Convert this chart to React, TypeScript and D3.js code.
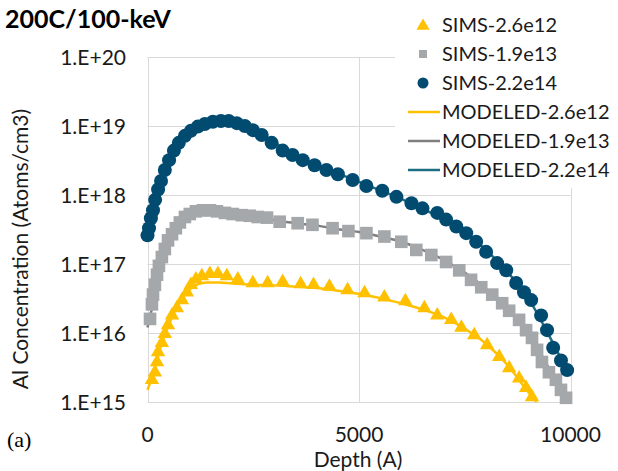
import React, { useRef, useEffect } from 'react';
import * as d3 from 'd3';

// SIMS-2.2e14 (circles)
const simsHighDepth = [0, 35, 80, 130, 180, 250, 320, 410, 510, 625, 740, 885, 1025, 1190, 1355, 1545, 1735, 1920, 2110, 2300, 2490, 2700, 2935, 3195, 3430, 3670, 3950, 4230, 4500, 4850, 5175, 5550, 5885, 6240, 6500, 6850, 7060, 7300, 7535, 7770, 8005, 8265, 8480, 8715, 8900, 9070, 9305, 9445, 9590, 9775, 9920];
const simsHighConc = [2.6e17, 3.3e17, 4.6e17, 6.0e17, 8.5e17, 1.2e18, 1.6e18, 2.3e18, 3.2e18, 4.4e18, 5.7e18, 7.2e18, 8.5e18, 9.8e18, 1.07e19, 1.15e19, 1.18e19, 1.18e19, 1.1e19, 1.0e19, 8.7e18, 7.4e18, 5.7e18, 4.4e18, 3.8e18, 3.2e18, 2.7e18, 2.3e18, 2.0e18, 1.65e18, 1.35e18, 1.15e18, 9.4e17, 7.6e17, 6.4e17, 5.5e17, 4.4e17, 3.5e17, 2.8e17, 2.1e17, 1.5e17, 1.03e17, 8.1e16, 5.3e16, 3.9e16, 3.0e16, 1.8e16, 1.1e16, 6.1e15, 4.0e15, 2.9e15];

// SIMS-1.9e13 (squares)
const simsMidDepth = [60, 105, 130, 175, 225, 270, 340, 410, 485, 580, 670, 765, 885, 1000, 1145, 1310, 1475, 1640, 1830, 2015, 2230, 2415, 2605, 2825, 3125, 3550, 3900, 4375, 4750, 5175, 5600, 6000, 6355, 6710, 7060, 7370, 7650, 7890, 8150, 8385, 8550, 8785, 8950, 9090, 9210, 9325, 9490, 9655, 9775, 9895];
const simsMidConc = [1.6e16, 2.6e16, 3.6e16, 5.0e16, 7.0e16, 9.4e16, 1.26e17, 1.65e17, 2.2e17, 2.7e17, 3.3e17, 4.0e17, 4.8e17, 5.3e17, 5.8e17, 6.0e17, 6.0e17, 5.8e17, 5.5e17, 5.3e17, 5.1e17, 5.0e17, 4.8e17, 4.7e17, 4.1e17, 3.9e17, 3.7e17, 3.3e17, 3.0e17, 2.8e17, 2.5e17, 2.1e17, 1.6e17, 1.35e17, 1.07e17, 8.1e16, 5.9e16, 4.6e16, 3.6e16, 2.7e16, 2.1e16, 1.55e16, 1.1e16, 8.5e15, 5.7e15, 3.8e15, 2.7e15, 2.1e15, 1.5e15, 1.15e15];

// SIMS-2.6e12 (triangles)
const simsLowDepth = [105, 175, 225, 250, 340, 410, 485, 580, 695, 815, 930, 1025, 1145, 1285, 1475, 1665, 1875, 2135, 2490, 2840, 3195, 3620, 3925, 4300, 4730, 5130, 5600, 6095, 6545, 6850, 7180, 7420, 7725, 8030, 8315, 8550, 8785, 8950, 9090];
const simsLowConc = [2.1e15, 2.7e15, 3.8e15, 5.3e15, 7.2e15, 9.7e15, 1.3e16, 1.8e16, 2.3e16, 3.0e16, 3.9e16, 5.0e16, 6.0e16, 6.7e16, 7.2e16, 7.2e16, 6.7e16, 6.0e16, 5.3e16, 5.3e16, 5.5e16, 5.1e16, 5.0e16, 4.7e16, 4.2e16, 3.8e16, 3.3e16, 2.9e16, 2.3e16, 1.8e16, 1.55e16, 1.2e16, 9.3e15, 6.7e15, 4.5e15, 3.1e15, 2.2e15, 1.6e15, 1.18e15];

// modeled profiles
const modelLowDepth = [0, 100, 200, 300, 400, 500, 600, 700, 800, 900, 1000, 1200, 1400, 1700, 2000, 2500, 3000, 3500, 4000, 4500, 5000, 5500, 6000, 6500, 7000, 7500, 8000, 8500, 9000, 9200];
const modelLowConc = [1.5e15, 2.2e15, 3.5e15, 6e15, 9e15, 1.3e16, 1.8e16, 2.4e16, 3.0e16, 3.7e16, 4.3e16, 5.1e16, 5.4e16, 5.4e16, 5.2e16, 5.0e16, 4.9e16, 4.7e16, 4.5e16, 4.1e16, 3.7e16, 3.2e16, 2.7e16, 2.2e16, 1.7e16, 1.15e16, 7e15, 3.5e15, 1.4e15, 1.0e15];
const modelMidDepth = [0, 100, 200, 300, 400, 500, 600, 700, 800, 1000, 1200, 1400, 1700, 2000, 2500, 3000, 3500, 4000, 4500, 5000, 5500, 6000, 6500, 7000, 7500, 8000, 8500, 9000, 9500, 9900];
const modelMidConc = [1.2e16, 2.2e16, 4.2e16, 8e16, 1.35e17, 2e17, 2.7e17, 3.4e17, 4.1e17, 5e17, 5.5e17, 5.6e17, 5.4e17, 5.1e17, 4.8e17, 4.3e17, 3.9e17, 3.6e17, 3.2e17, 2.9e17, 2.5e17, 2.1e17, 1.6e17, 1.15e17, 7.5e16, 4.4e16, 2.3e16, 1.0e16, 3e15, 1.0e15];
const modelHighDepth = [0, 100, 200, 300, 400, 500, 600, 800, 1000, 1200, 1500, 1800, 2000, 2300, 2600, 3000, 3500, 4000, 4500, 5000, 5500, 6000, 6500, 7000, 7500, 8000, 8500, 9000, 9500, 9900];
const modelHighConc = [2.3e17, 4e17, 7e17, 1.15e18, 1.8e18, 2.7e18, 3.7e18, 5.8e18, 8e18, 9.6e18, 1.1e19, 1.15e19, 1.13e19, 1.0e19, 8.3e18, 5.8e18, 3.7e18, 2.7e18, 2.05e18, 1.55e18, 1.17e18, 8.8e17, 6.3e17, 4.5e17, 2.9e17, 1.6e17, 7.8e16, 3.2e16, 9e15, 3e15];

const xTicks = [0, 5000, 10000];
const yTicks = [1e15, 1e16, 1e17, 1e18, 1e19, 1e20];
const yTickLabels = ['1.E+15', '1.E+16', '1.E+17', '1.E+18', '1.E+19', '1.E+20'];

const legendNames = ['SIMS-2.6e12', 'SIMS-1.9e13', 'SIMS-2.2e14', 'MODELED-2.6e12', 'MODELED-1.9e13', 'MODELED-2.2e14'];

const YELLOW = '#FFC000';
const GREY = '#A5A8AA';
const NAVY = '#024B70';
const GREY_LINE = '#7F7F7F';
const TEAL = '#1F6E85';

const width = 618;
const height = 471;
const font = 'Lato, "Open Sans", sans-serif';

const zip = (xs: number[], ys: number[]) => xs.map((x, i) => [x, ys[i]] as [number, number]);

const App: React.FC = () => {
  const svgRef = useRef<SVGSVGElement | null>(null);

  useEffect(() => {
    document.body.style.margin = '0';
    const svg = d3.select(svgRef.current);
    svg.selectAll('*').remove();

    const x = d3.scaleLinear().domain([0, 10000]).range([147.5, 570.5]);
    const y = d3.scaleLog().domain([1e15, 1e20]).range([402, 57]);

    svg.append('rect').attr('width', width).attr('height', height).attr('fill', '#fff');

    // gridlines
    const grid = svg.append('g').attr('stroke', '#D9D9D9').attr('stroke-width', 1);
    yTicks.forEach(t => {
      grid.append('line')
        .attr('x1', x(0)).attr('x2', x(10000))
        .attr('y1', Math.round(y(t)) + 0.5).attr('y2', Math.round(y(t)) + 0.5);
    });
    xTicks.forEach(t => {
      grid.append('line')
        .attr('x1', Math.round(x(t)) + 0.5).attr('x2', Math.round(x(t)) + 0.5)
        .attr('y1', y(1e20)).attr('y2', y(1e15));
    });

    // y tick labels
    svg.append('g').selectAll('text')
      .data(yTicks)
      .enter()
      .append('text')
      .attr('x', 126)
      .attr('y', d => y(d))
      .attr('dy', '0.36em')
      .attr('text-anchor', 'end')
      .attr('font-family', font)
      .attr('font-size', 21)
      .attr('fill', '#1a1a1a')
      .text((d, i) => yTickLabels[i]);

    // x tick labels
    svg.append('g').selectAll('text')
      .data(xTicks)
      .enter()
      .append('text')
      .attr('x', d => x(d))
      .attr('y', 442)
      .attr('text-anchor', 'middle')
      .attr('font-family', font)
      .attr('font-size', 21)
      .attr('fill', '#1a1a1a')
      .text(d => String(d));

    // axis titles
    svg.append('text')
      .attr('x', 358).attr('y', 467)
      .attr('text-anchor', 'middle')
      .attr('font-family', font).attr('font-size', 21)
      .attr('fill', '#1a1a1a')
      .text('Depth (A)');
    svg.append('text')
      .attr('transform', 'translate(28,249) rotate(-90)')
      .attr('text-anchor', 'middle')
      .attr('font-family', font).attr('font-size', 21)
      .attr('fill', '#1a1a1a')
      .text('Al Concentration (Atoms/cm3)');

    svg.append('text')
      .attr('x', 5).attr('y', 28)
      .attr('font-family', font).attr('font-size', 25).attr('font-weight', 'bold')
      .attr('fill', '#000')
      .text('200C/100-keV');
    svg.append('text')
      .attr('x', 7).attr('y', 447)
      .attr('font-family', '"Liberation Serif", "DejaVu Serif", serif').attr('font-size', 22)
      .attr('fill', '#000')
      .text('(a)');

    // modeled lines (under markers)
    const line = d3.line<[number, number]>()
      .x(d => x(d[0]))
      .y(d => y(d[1]))
      .curve(d3.curveMonotoneX);
    [
      { pts: zip(modelLowDepth, modelLowConc), color: YELLOW },
      { pts: zip(modelMidDepth, modelMidConc), color: GREY_LINE },
      { pts: zip(modelHighDepth, modelHighConc), color: TEAL },
    ].forEach(s => {
      svg.append('path')
        .attr('d', line(s.pts))
        .attr('fill', 'none')
        .attr('stroke', s.color)
        .attr('stroke-width', 2.5);
    });

    // SIMS markers
    const tri = d3.symbol().type(d3.symbolTriangle).size(90)();
    const sq = d3.symbol().type(d3.symbolSquare).size(160)();

    svg.append('g').selectAll('path')
      .data(zip(simsLowDepth, simsLowConc))
      .enter()
      .append('path')
      .attr('d', tri)
      .attr('transform', d => `translate(${x(d[0])},${y(d[1])})`)
      .attr('fill', YELLOW);

    svg.append('g').selectAll('path')
      .data(zip(simsMidDepth, simsMidConc))
      .enter()
      .append('path')
      .attr('d', sq)
      .attr('transform', d => `translate(${x(d[0])},${y(d[1])})`)
      .attr('fill', GREY);

    svg.append('g').selectAll('circle')
      .data(zip(simsHighDepth, simsHighConc))
      .enter()
      .append('circle')
      .attr('cx', d => x(d[0]))
      .attr('cy', d => y(d[1]))
      .attr('r', 7)
      .attr('fill', NAVY);

    // legend
    const lg = svg.append('g');
    lg.append('rect').attr('x', 395).attr('y', 0).attr('width', 223).attr('height', 188).attr('fill', '#fff');
    const rowY = (i: number) => 25 + i * 29;
    lg.append('path').attr('d', d3.symbol().type(d3.symbolTriangle).size(75)())
      .attr('transform', `translate(423,${rowY(0) + 1})`).attr('fill', YELLOW);
    lg.append('path').attr('d', d3.symbol().type(d3.symbolSquare).size(64)())
      .attr('transform', `translate(423,${rowY(1)})`).attr('fill', GREY);
    lg.append('circle').attr('cx', 423).attr('cy', rowY(2)).attr('r', 5.5).attr('fill', NAVY);
    [YELLOW, GREY_LINE, TEAL].forEach((c, i) => {
      lg.append('line')
        .attr('x1', 408).attr('x2', 440)
        .attr('y1', rowY(3 + i)).attr('y2', rowY(3 + i))
        .attr('stroke', c).attr('stroke-width', 2.5);
    });
    legendNames.forEach((n, i) => {
      lg.append('text')
        .attr('x', 442)
        .attr('y', rowY(i))
        .attr('dy', '0.36em')
        .attr('font-family', font).attr('font-size', 20)
        .attr('fill', '#1a1a1a')
        .text(n);
    });
  }, []);

  return (
    <svg ref={svgRef} width={width} height={height} style={{ display: 'block' }} />
  );
};

export default App;
